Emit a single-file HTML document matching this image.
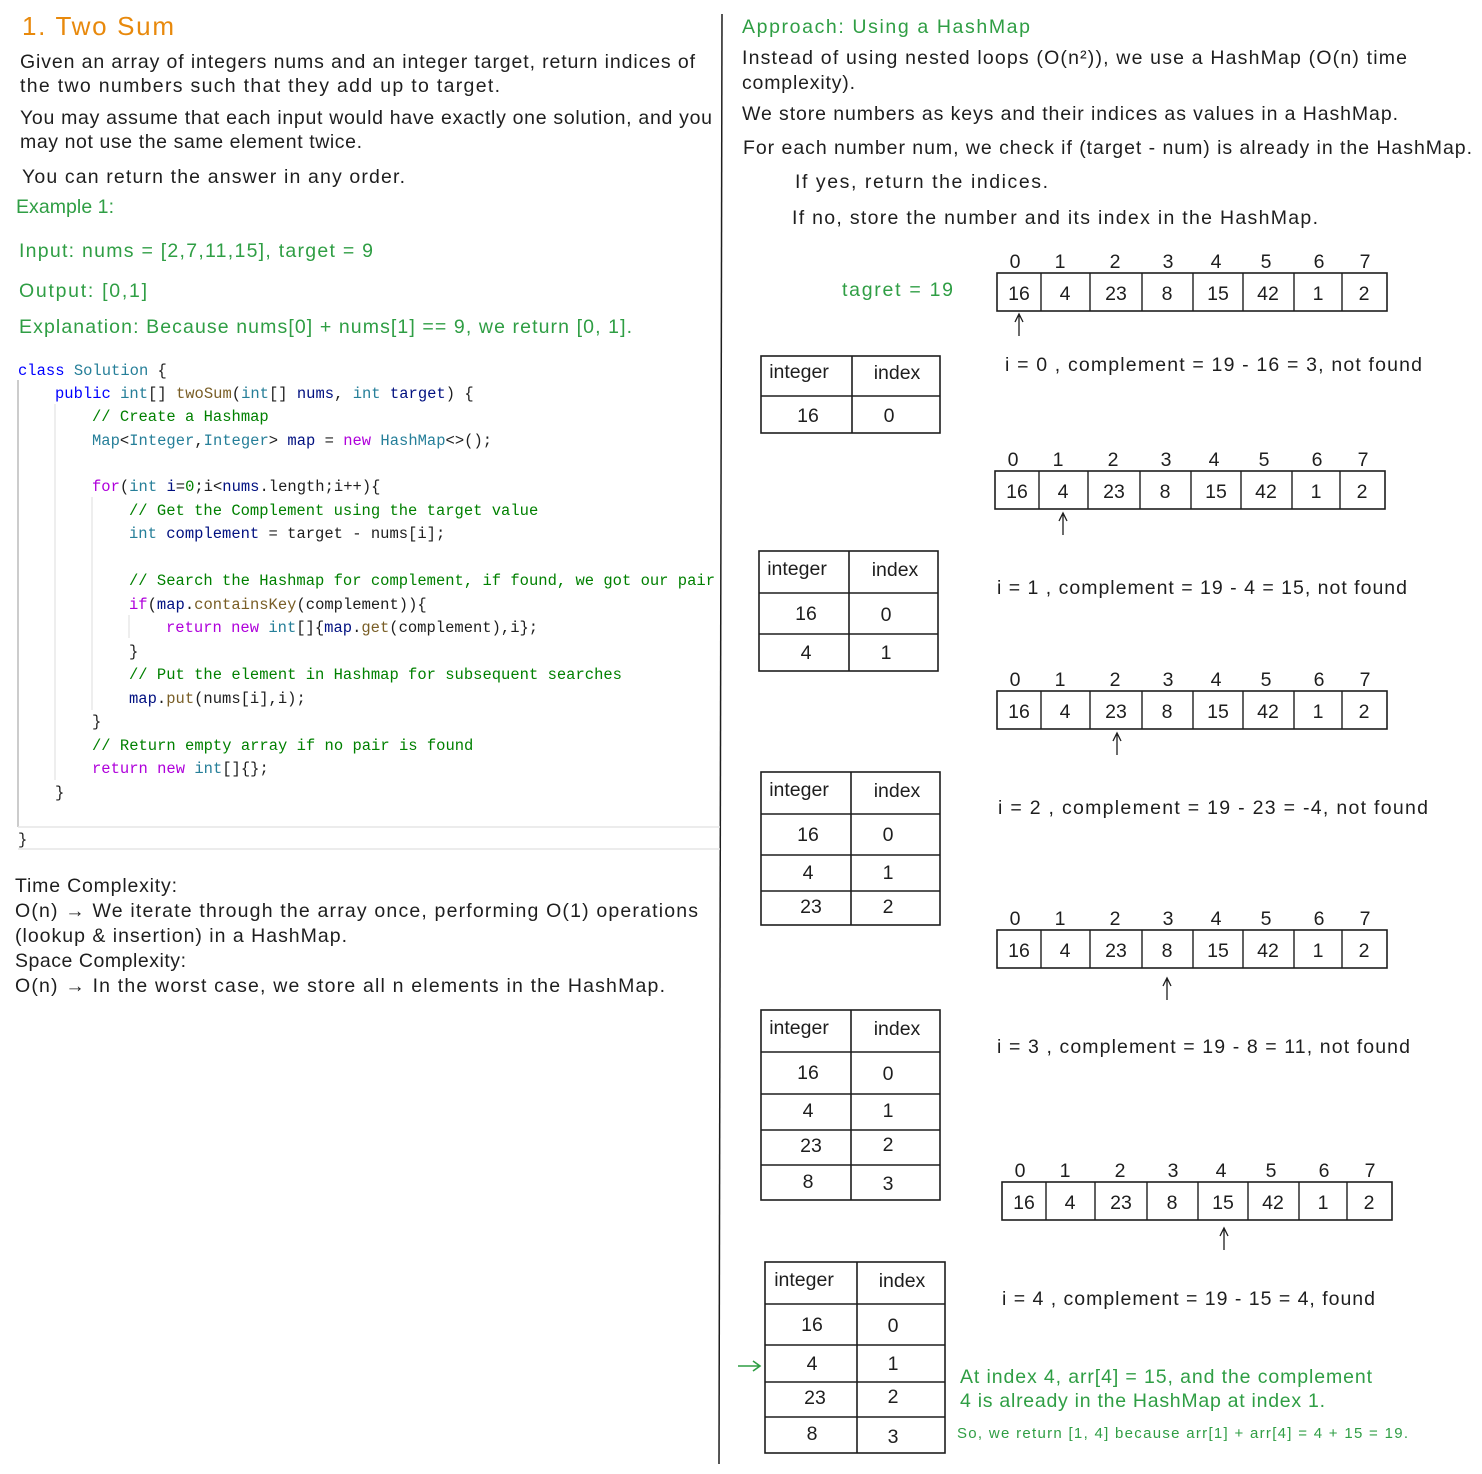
<!DOCTYPE html>
<html><head><meta charset="utf-8"><style>
html,body{margin:0;padding:0;background:#fff}
svg{display:block}
.t{font-family:"Liberation Sans",sans-serif;font-size:19.5px;fill:#1e1e1e}
.g{fill:#2f9e44}
.c{font-family:"Liberation Mono",monospace;font-size:15.5px;fill:#1e1e1e;white-space:pre}
.k{fill:#0000ff}.ty{fill:#267f99}.cm{fill:#008000}.p{fill:#af00db}.m{fill:#795e26}.v{fill:#001080}
.n{font-family:"Liberation Sans",sans-serif;font-size:19.5px;fill:#1e1e1e;text-anchor:middle}
</style></head><body>
<svg width="1482" height="1474" viewBox="0 0 1482 1474" xmlns="http://www.w3.org/2000/svg">
<defs>
<g id="arr">
<rect x="0" y="0" width="390" height="38" fill="none" stroke="#1e1e1e" stroke-width="1.6"/>
<path d="M44 0V38M93 0V38M145 0V38M196 0V38M246 0V38M297 0V38M345 0V38" stroke="#1e1e1e" stroke-width="1.4"/>
<text class="n" y="27"><tspan x="22">16</tspan><tspan x="68">4</tspan><tspan x="119">23</tspan><tspan x="170">8</tspan><tspan x="221">15</tspan><tspan x="271">42</tspan><tspan x="321">1</tspan><tspan x="367">2</tspan></text>
<text class="n" y="-5"><tspan x="18">0</tspan><tspan x="63">1</tspan><tspan x="118">2</tspan><tspan x="171">3</tspan><tspan x="219">4</tspan><tspan x="269">5</tspan><tspan x="322">6</tspan><tspan x="368">7</tspan></text>
</g>
<g id="up"><path d="M0 22V0M-4 8L0 0L4 8" fill="none" stroke="#1e1e1e" stroke-width="1.3"/></g>
</defs>

<line x1="722" y1="14" x2="719" y2="1464" stroke="#1e1e1e" stroke-width="1.5"/>

<text x="22" y="35" style="font-family:'Liberation Sans',sans-serif;font-size:26px;fill:#e8890c" textLength="152">1. Two Sum</text>
<text class="t" x="20" y="68" textLength="675">Given an array of integers nums and an integer target, return indices of</text>
<text class="t" x="20" y="92" textLength="480">the two numbers such that they add up to target.</text>
<text class="t" x="20" y="124" textLength="692">You may assume that each input would have exactly one solution, and you</text>
<text class="t" x="20" y="148" textLength="342">may not use the same element twice.</text>
<text class="t" x="22" y="183" textLength="383">You can return the answer in any order.</text>
<text class="t g" x="16" y="213" textLength="98">Example 1:</text>
<text class="t g" x="19" y="257" textLength="354">Input: nums = [2,7,11,15], target = 9</text>
<text class="t g" x="19" y="297" textLength="128">Output: [0,1]</text>
<text class="t g" x="19" y="333" textLength="613">Explanation: Because nums[0] + nums[1] == 9, we return [0, 1].</text>

<line x1="18" y1="380" x2="18" y2="827" stroke="#bbb" stroke-width="1.5"/>
<line x1="55" y1="404" x2="55" y2="780" stroke="#ddd" stroke-width="1"/>
<line x1="92" y1="497" x2="92" y2="710" stroke="#ddd" stroke-width="1"/>
<line x1="129" y1="615" x2="129" y2="638" stroke="#ddd" stroke-width="1"/>
<line x1="18" y1="827" x2="720" y2="827" stroke="#e5e5e5" stroke-width="1.5"/>
<line x1="18" y1="849" x2="720" y2="849" stroke="#e5e5e5" stroke-width="1.5"/>
<text class="c" x="18" y="375"><tspan class="k">class</tspan> <tspan class="ty">Solution</tspan> {</text>
<text class="c" x="55" y="398"><tspan class="k">public</tspan> <tspan class="ty">int</tspan>[] <tspan class="m">twoSum</tspan>(<tspan class="ty">int</tspan>[] <tspan class="v">nums</tspan>, <tspan class="ty">int</tspan> <tspan class="v">target</tspan>) {</text>
<text class="c cm" x="92" y="421">// Create a Hashmap</text>
<text class="c" x="92" y="445"><tspan class="ty">Map</tspan>&lt;<tspan class="ty">Integer</tspan>,<tspan class="ty">Integer</tspan>&gt; <tspan class="v">map</tspan> = <tspan class="p">new</tspan> <tspan class="ty">HashMap</tspan>&lt;&gt;();</text>
<text class="c" x="92" y="491"><tspan class="p">for</tspan>(<tspan class="ty">int</tspan> <tspan class="v">i</tspan>=<tspan class="cm">0</tspan>;i&lt;<tspan class="v">nums</tspan>.length;i++){</text>
<text class="c cm" x="129" y="515">// Get the Complement using the target value</text>
<text class="c" x="129" y="538"><tspan class="ty">int</tspan> <tspan class="v">complement</tspan> = target - nums[i];</text>
<text class="c cm" x="129" y="585">// Search the Hashmap for complement, if found, we got our pair</text>
<text class="c" x="129" y="609"><tspan class="p">if</tspan>(<tspan class="v">map</tspan>.<tspan class="m">containsKey</tspan>(complement)){</text>
<text class="c" x="166" y="632"><tspan class="p">return</tspan> <tspan class="p">new</tspan> <tspan class="ty">int</tspan>[]{<tspan class="v">map</tspan>.<tspan class="m">get</tspan>(complement),i};</text>
<text class="c" x="129" y="656">}</text>
<text class="c cm" x="129" y="679">// Put the element in Hashmap for subsequent searches</text>
<text class="c" x="129" y="703"><tspan class="v">map</tspan>.<tspan class="m">put</tspan>(nums[i],i);</text>
<text class="c" x="92" y="726">}</text>
<text class="c cm" x="92" y="750">// Return empty array if no pair is found</text>
<text class="c" x="92" y="773"><tspan class="p">return</tspan> <tspan class="p">new</tspan> <tspan class="ty">int</tspan>[]{};</text>
<text class="c" x="55" y="797">}</text>
<text class="c" x="18" y="844">}</text>

<text class="t" x="15" y="892" textLength="162">Time Complexity:</text>
<text class="t" x="15" y="917" textLength="683">O(n) → We iterate through the array once, performing O(1) operations</text>
<text class="t" x="15" y="942" textLength="332">(lookup &amp; insertion) in a HashMap.</text>
<text class="t" x="15" y="967" textLength="171">Space Complexity:</text>
<text class="t" x="15" y="992" textLength="650">O(n) → In the worst case, we store all n elements in the HashMap.</text>

<text class="t g" x="742" y="33" textLength="288">Approach: Using a HashMap</text>
<text class="t" x="742" y="64" textLength="665">Instead of using nested loops (O(n²)), we use a HashMap (O(n) time</text>
<text class="t" x="742" y="89" textLength="113">complexity).</text>
<text class="t" x="742" y="120" textLength="656">We store numbers as keys and their indices as values in a HashMap.</text>
<text class="t" x="743" y="154" textLength="729">For each number num, we check if (target - num) is already in the HashMap.</text>
<text class="t" x="795" y="188" textLength="253">If yes, return the indices.</text>
<text class="t" x="792" y="224" textLength="526">If no, store the number and its index in the HashMap.</text>
<text class="t g" x="842" y="296" textLength="111">tagret = 19</text>

<use href="#arr" x="997" y="273"/>
<use href="#up" x="1019" y="314"/>
<use href="#arr" x="995" y="471"/>
<use href="#up" x="1063" y="513"/>
<use href="#arr" x="997" y="691"/>
<use href="#up" x="1117" y="733"/>
<use href="#arr" x="997" y="930"/>
<use href="#up" x="1167" y="978"/>
<use href="#arr" x="1002" y="1182"/>
<use href="#up" x="1224" y="1228"/>

<text class="t" x="1005" y="371" textLength="417">i = 0 , complement = 19 - 16 = 3, not found</text>
<text class="t" x="997" y="594" textLength="410">i = 1 , complement = 19 - 4 = 15, not found</text>
<text class="t" x="998" y="814" textLength="430">i = 2 , complement = 19 - 23 = -4, not found</text>
<text class="t" x="997" y="1053" textLength="413">i = 3 , complement = 19 - 8 = 11, not found</text>
<text class="t" x="1002" y="1305" textLength="373">i = 4 , complement = 19 - 15 = 4, found</text>

<g fill="none" stroke="#1e1e1e" stroke-width="1.6">
<rect x="761" y="356" width="179" height="77"/><path d="M852 356V433M761 396H940"/>
<rect x="759" y="551" width="179" height="120"/><path d="M849 551V671M759 593H938M759 634H938"/>
<rect x="761" y="772" width="179" height="153"/><path d="M851 772V925M761 814H940M761 855H940M761 891H940"/>
<rect x="761" y="1010" width="179" height="190"/><path d="M851 1010V1200M761 1052H940M761 1094H940M761 1130H940M761 1165H940"/>
<rect x="765" y="1262" width="180" height="191"/><path d="M857 1262V1453M765 1304H945M765 1345H945M765 1382H945M765 1417H945"/>
</g>
<text class="n" x="799" y="378">integer</text><text class="n" x="897" y="379">index</text>
<text class="n" x="808" y="422">16</text><text class="n" x="889" y="422">0</text>

<text class="n" x="797" y="575">integer</text><text class="n" x="895" y="576">index</text>
<text class="n" x="806" y="620">16</text><text class="n" x="886" y="621">0</text>
<text class="n" x="806" y="659">4</text><text class="n" x="886" y="659">1</text>

<text class="n" x="799" y="796">integer</text><text class="n" x="897" y="797">index</text>
<text class="n" x="808" y="841">16</text><text class="n" x="888" y="841">0</text>
<text class="n" x="808" y="879">4</text><text class="n" x="888" y="879">1</text>
<text class="n" x="811" y="913">23</text><text class="n" x="888" y="913">2</text>

<text class="n" x="799" y="1034">integer</text><text class="n" x="897" y="1035">index</text>
<text class="n" x="808" y="1079">16</text><text class="n" x="888" y="1080">0</text>
<text class="n" x="808" y="1117">4</text><text class="n" x="888" y="1117">1</text>
<text class="n" x="811" y="1152">23</text><text class="n" x="888" y="1151">2</text>
<text class="n" x="808" y="1188">8</text><text class="n" x="888" y="1190">3</text>

<text class="n" x="804" y="1286">integer</text><text class="n" x="902" y="1287">index</text>
<text class="n" x="812" y="1331">16</text><text class="n" x="893" y="1332">0</text>
<text class="n" x="812" y="1370">4</text><text class="n" x="893" y="1370">1</text>
<text class="n" x="815" y="1404">23</text><text class="n" x="893" y="1403">2</text>
<text class="n" x="812" y="1440">8</text><text class="n" x="893" y="1443">3</text>

<path d="M738 1366H760M753 1361L760 1366L753 1371" fill="none" stroke="#2f9e44" stroke-width="1.6"/>
<text class="t g" x="960" y="1383" textLength="412">At index 4, arr[4] = 15, and the complement</text>
<text class="t g" x="960" y="1407" textLength="365">4 is already in the HashMap at index 1.</text>
<text class="t g" x="957" y="1438" style="font-size:15px" textLength="451">So, we return [1, 4] because arr[1] + arr[4] = 4 + 15 = 19.</text>
</svg>
</body></html>
